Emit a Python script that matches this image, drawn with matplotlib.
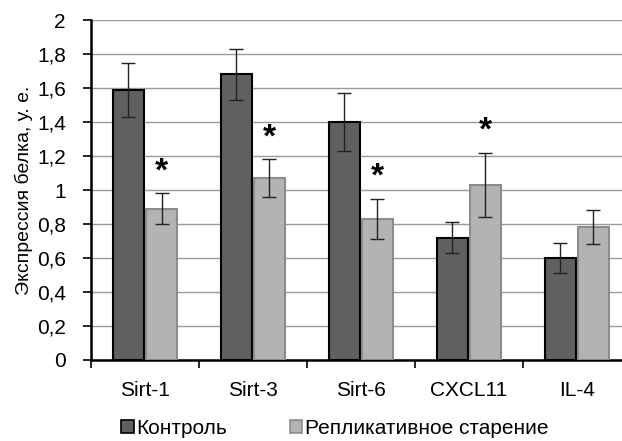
import matplotlib.pyplot as plt
import numpy as np
from matplotlib.patches import Patch

plt.rcParams['font.family'] = ['Liberation Sans', 'DejaVu Sans']

categories = ['Sirt-1', 'Sirt-3', 'Sirt-6', 'CXCL11', 'IL-4']
control = [1.59, 1.68, 1.40, 0.72, 0.60]
control_err = [0.16, 0.15, 0.17, 0.09, 0.09]
aged = [0.89, 1.07, 0.83, 1.03, 0.78]
aged_err = [0.09, 0.11, 0.12, 0.19, 0.10]
significant = [True, True, True, True, False]

fig = plt.figure(figsize=(6.22, 4.41), dpi=100)
ax = fig.add_axes([0.1463, 0.1837, 0.868, 0.7709])

x = np.arange(len(categories))
w = 0.28
off = 0.153

ax.bar(x - off, control, w, color='#606060', edgecolor='black', linewidth=1.5, zorder=3)
ax.bar(x + off, aged, w, color='#b3b3b3', edgecolor='#8c8c8c', linewidth=1.5, zorder=3)
ax.errorbar(x - off, control, yerr=control_err, fmt='none', ecolor='#222222',
            elinewidth=1, capsize=5, capthick=1, zorder=4)
ax.errorbar(x + off, aged, yerr=aged_err, fmt='none', ecolor='#222222',
            elinewidth=1, capsize=5, capthick=1, zorder=4)

for i, s in enumerate(significant):
    if s:
        ax.text(x[i] + off, aged[i] + aged_err[i] + 0.035, '*', ha='center', va='bottom',
                fontsize=24, fontweight='bold', zorder=5)

ax.set_xlim(-0.5, len(categories) - 0.5)
ax.set_ylim(0, 2)
ax.set_yticks(np.arange(0, 2.01, 0.2))
ax.set_yticklabels(['0' if v == 0 else ('%g' % round(v, 1)).replace('.', ',')
                    for v in np.arange(0, 2.01, 0.2)], fontsize=15)
ax.set_xticks(x)
ax.set_xticklabels(categories, fontsize=15)
ax.set_xticks(np.arange(-0.5, len(categories), 1), minor=True)
ax.tick_params(axis='x', which='major', length=0, pad=15)
ax.tick_params(axis='x', which='minor', length=6, width=1.2, direction='out')
ax.tick_params(axis='y', length=6, width=1.2, pad=12)

ax.grid(axis='y', color='#9a9a9a', linewidth=1, zorder=0)
ax.set_axisbelow(True)
for side in ['top', 'right']:
    ax.spines[side].set_visible(False)
ax.spines['left'].set_linewidth(1.8)
ax.spines['bottom'].set_linewidth(1.8)

ax.set_ylabel('Экспрессия белка, у. е.', fontsize=14, labelpad=3)

handles = [Patch(facecolor='#606060', edgecolor='black', linewidth=1.2),
           Patch(facecolor='#b3b3b3', edgecolor='#8c8c8c', linewidth=1.2)]
fig.legend(handles, ['Контроль', 'Репликативное старение'], loc='lower left',
           bbox_to_anchor=(0.165, -0.035), ncol=2, frameon=False, fontsize=15,
           handlelength=0.6, handleheight=0.6, handletextpad=0.12, columnspacing=3.0)

fig.savefig('out.png', dpi=100)
